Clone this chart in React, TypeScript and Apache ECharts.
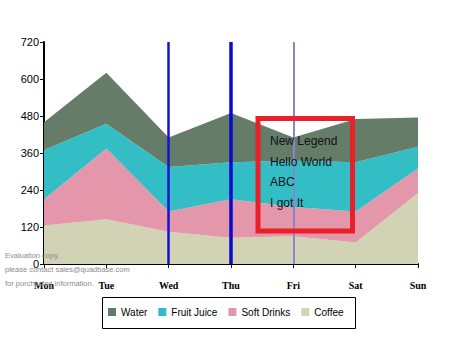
import React, { useEffect, useRef } from "react";
import * as echarts from "echarts";

const days = ["Mon", "Tue", "Wed", "Thu", "Fri", "Sat", "Sun"];
const coffee = [125, 145, 105, 85, 90, 70, 230];
const softDrinks = [85, 230, 65, 125, 95, 100, 80];
const fruitJuice = [160, 80, 145, 120, 150, 160, 70];
const water = [90, 165, 95, 160, 75, 140, 95];
const yTicks = { min: 0, max: 720, interval: 120 };
const boxLines = ["New Legend", "Hello World", "ABC", "I got It"];
const watermark = ["Evaluation copy,", "please contact sales@quadbase.com", "for purchasing information."];

const colors = { Water: "#647c68", "Fruit Juice": "#33bec6", "Soft Drinks": "#e496ab", Coffee: "#d2d2b4" };

export default function App() {
  const ref = useRef<HTMLDivElement>(null);
  useEffect(() => {
    document.body.style.margin = "0";
    const chart = echarts.init(ref.current!, null, { renderer: "svg" });
    const mk = (name: string, data: number[], extra: any = {}) => ({
      name,
      type: "line",
      stack: "total",
      data,
      symbol: "none",
      lineStyle: { width: 0 },
      areaStyle: { color: (colors as any)[name], opacity: 1 },
      itemStyle: { color: (colors as any)[name] },
      ...extra,
    });
    chart.setOption({
      animation: false,
      grid: { left: 44, right: 32, top: 42, bottom: 86 },
      xAxis: {
        type: "category",
        data: days,
        boundaryGap: false,
        axisLine: { lineStyle: { color: "#000", width: 2 } },
        axisTick: { show: true, length: 4, lineStyle: { color: "#000", width: 1 } },
        axisLabel: { color: "#000", fontFamily: "Liberation Serif", fontSize: 10, fontWeight: "bold", margin: 16 },
        splitLine: { show: false },
      },
      yAxis: {
        type: "value",
        min: yTicks.min,
        max: yTicks.max,
        interval: yTicks.interval,
        axisLine: { show: true, lineStyle: { color: "#000", width: 2 } },
        axisTick: { show: true, length: 4, lineStyle: { color: "#000", width: 1 } },
        axisLabel: { color: "#000", fontFamily: "Liberation Sans", fontSize: 11, margin: 5 },
        splitLine: { show: false },
      },
      legend: {
        data: ["Water", "Fruit Juice", "Soft Drinks", "Coffee"],
        left: 108,
        top: 307,
        itemWidth: 8,
        itemHeight: 8,
        itemGap: 11,
        icon: "rect",
        padding: 0,
        textStyle: { fontFamily: "Liberation Sans", fontSize: 10, color: "#000", padding: [0, 0, 0, 0] },
      },
      series: [
        mk("Coffee", coffee),
        mk("Soft Drinks", softDrinks),
        mk("Fruit Juice", fruitJuice),
        mk("Water", water, {
          markLine: {
            silent: true,
            symbol: "none",
            label: { show: false },
            data: [
              { xAxis: "Wed", lineStyle: { color: "#1414cc", width: 2.5, type: "solid" } },
              { xAxis: "Thu", lineStyle: { color: "#0a0acc", width: 3.5, type: "solid" } },
              { xAxis: "Fri", lineStyle: { color: "#8a86cc", width: 2, type: "solid" } },
            ],
          },
        }),
      ],
      graphic: [
        {
          type: "rect",
          shape: { x: 102.5, y: 297.5, width: 253, height: 31 },
          style: { fill: "none", stroke: "#000", lineWidth: 1 },
          z: 10,
        },
        {
          type: "rect",
          shape: { x: 258, y: 118.5, width: 94.5, height: 112.5 },
          style: { fill: "none", stroke: "#e8202a", lineWidth: 5 },
          z: 10,
        },
        ...boxLines.map((t, i) => ({
          type: "text",
          x: 270,
          y: 141 + i * 20.7,
          style: { text: t, fill: "#111", font: "12px 'Liberation Sans'", textVerticalAlign: "middle" },
          z: 11,
        })),
        ...watermark.map((t, i) => ({
          type: "text",
          x: 5,
          y: 255 + i * 14,
          style: { text: t, fill: "#8c8c8c", font: "7.5px 'Liberation Sans'", textVerticalAlign: "middle" },
          z: 12,
        })),
      ],
    });
    return () => chart.dispose();
  }, []);
  return <div ref={ref} style={{ width: 450, height: 350 }} />;
}
